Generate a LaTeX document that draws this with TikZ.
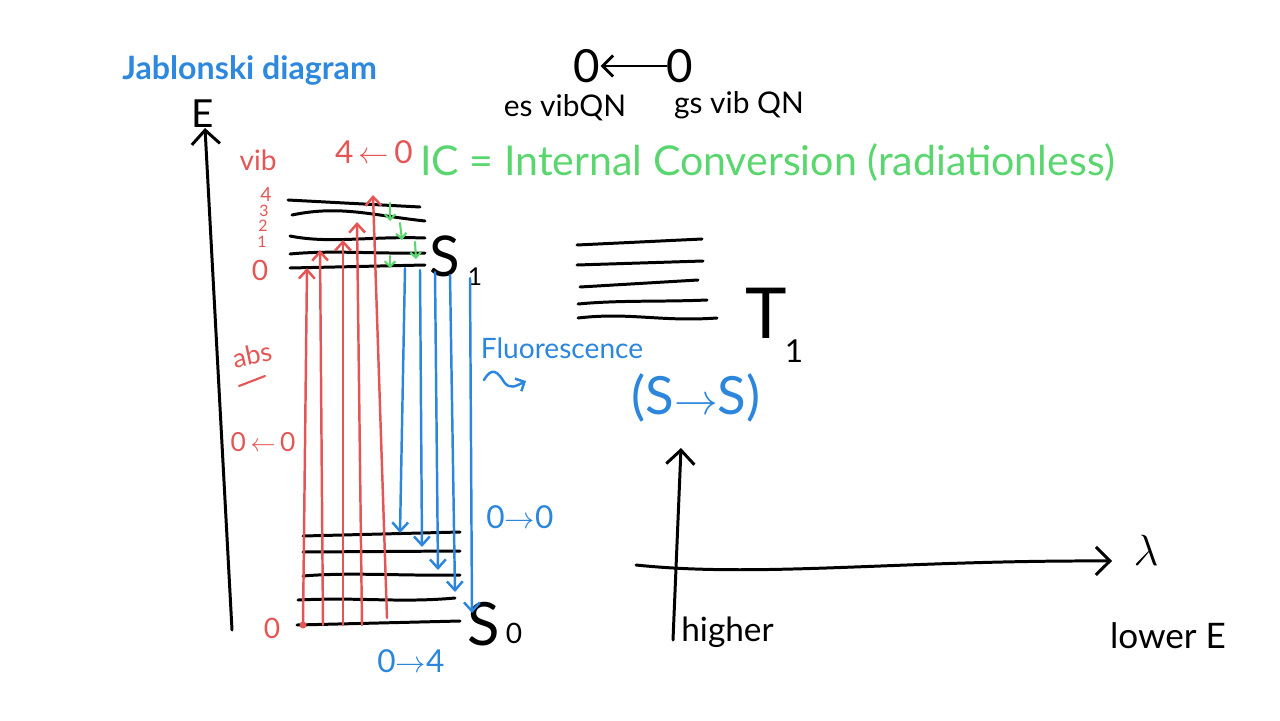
\documentclass[tikz,border=0pt]{standalone}
\usepackage{fontspec}
\setmainfont{Lato}
\usetikzlibrary{positioning,arrows,arrows.meta}
\definecolor{penred}{RGB}{228,86,86}
\definecolor{penblue}{RGB}{44,134,220}
\definecolor{pengreen}{RGB}{90,214,110}
\definecolor{titleblue}{RGB}{46,136,222}
\tikzstyle{lvl}=[line width=1.7pt, line cap=round]
\tikzstyle{absline}=[draw=penred, line width=1.4pt, line cap=round, -{Straight Barb[length=5pt,width=9pt]}]
\tikzstyle{fluo}=[draw=penblue, line width=1.4pt, line cap=round, -{Straight Barb[length=5pt,width=9pt]}]
\tikzstyle{icarrow}=[draw=pengreen, line width=1.2pt, line cap=round, -{Straight Barb[length=3pt,width=6pt]}]
\tikzstyle{axis}=[line width=1.7pt, line cap=round, -{Straight Barb[length=8pt,width=16pt]}]
\tikzstyle{lab}=[inner sep=0pt]

\begin{document}
\begin{tikzpicture}[x=0.02cm,y=-0.02cm]
	\useasboundingbox (0,0) rectangle (1280,720);
	% title
	\node[lab, anchor=west, text=titleblue, font=\bfseries\fontsize{18.3}{21}\selectfont] (title) at (122,70) {Jablonski diagram};
	% energy axis
	\coordinate (Ebot) at (232,630);
	\coordinate (Etop) at (205,128);
	\draw[axis] (Ebot) -- (Etop);
	\node[lab, font=\fontsize{22}{24}\selectfont] (E) at (203,114) {E};
	% S1 levels
	\draw[lvl] (288,200) -- (420,207);
	\draw[lvl] (292,215) .. controls (340,205) and (370,215) .. (425,221);
	\draw[lvl] (290,236) .. controls (330,244) and (370,236) .. (425,238);
	\draw[lvl] (290,254) .. controls (330,250) and (380,254) .. (425,253);
	\draw[lvl] (290,268) -- (425,265);
	\node[lab, font=\fontsize{32}{34}\selectfont] (S1) at (445,256) {S};
	\node[lab, font=\fontsize{14}{16}\selectfont] (S1sub) at (475,277) {1};
	% S0 levels
	\draw[lvl] (303,536) -- (460,532);
	\draw[lvl] (303,552) -- (460,551);
	\draw[lvl] (303,576) .. controls (350,572) and (400,576) .. (460,575);
	\draw[lvl] (298,600) .. controls (360,597) and (400,603) .. (455,598);
	\draw[lvl] (297,625) -- (460,621);
	\node[lab, font=\fontsize{34}{36}\selectfont] (S0) at (484,624) {S};
	\node[lab, font=\fontsize{16}{18}\selectfont] (S0sub) at (514,633) {0};
	% T1 levels
	\draw[lvl] (577,245) -- (702,239);
	\draw[lvl] (577,265) -- (703,261);
	\draw[lvl] (580,287) -- (698,280);
	\draw[lvl] (578,304) .. controls (620,300) and (660,302) .. (707,300);
	\draw[lvl] (578,318) .. controls (630,312) and (660,322) .. (717,318);
	\node[lab, font=\fontsize{40}{42}\selectfont] (T1) at (766,313) {T};
	\node[lab, font=\fontsize{18}{20}\selectfont] (T1sub) at (794,351) {1};
	% vib quantum numbers
	\node[lab, text=penred, font=\fontsize{16}{18}\selectfont] (vib) at (258,160) {vib};
	\node[lab, text=penred, font=\fontsize{11}{13}\selectfont] (v4) at (266,195) {4};
	\node[lab, text=penred, font=\fontsize{9}{11}\selectfont] (v3) at (264,211) {3};
	\node[lab, text=penred, font=\fontsize{9}{11}\selectfont] (v2) at (263,226) {2};
	\node[lab, text=penred, font=\fontsize{9}{11}\selectfont] (v1) at (262,242) {1};
	\node[lab, text=penred, font=\fontsize{16}{18}\selectfont] (v0) at (260,270) {0};
	\node[lab, text=penred, font=\fontsize{18}{20}\selectfont] (fourzero) at (374,152) {4\,$\leftarrow$\,0};
	\node[lab, text=penred, font=\fontsize{15}{17}\selectfont, rotate=12] (absl) at (252,355) {abs};
	\coordinate (absA) at (239,386);
	\coordinate (absB) at (265,376);
	\draw[penred, line width=1.2pt, line cap=round] (absA) -- (absB);
	\node[lab, text=penred, font=\fontsize{15}{17}\selectfont] (zerozero) at (263,442) {0\,$\leftarrow$\,0};
	\node[lab, text=penred, font=\fontsize{16}{18}\selectfont] (g0) at (272,628) {0};
	\fill[penred] (303,625) circle (3.5);
	% absorption
	\foreach \xa/\ya/\xb/\yb/\n in {303/625/307/268/1, 323/625/320/250/2, 343/625/343/240/3, 362/625/357/222/4, 387/618/373/195/5}{
		\coordinate (ra\n) at (\xa,\ya);
		\coordinate (rb\n) at (\xb,\yb);
		\draw[absline] (ra\n) -- (rb\n);
	}
	% fluorescence
	\foreach \xa/\ya/\xb/\yb/\n in {405/268/400/533/1, 420/270/422/547/2, 435/272/438/570/3, 450/275/455/592/4, 470/278/472/613/5}{
		\coordinate (ba\n) at (\xa,\ya);
		\coordinate (bb\n) at (\xb,\yb);
		\draw[fluo] (ba\n) -- (bb\n);
	}
	% internal conversion
	\foreach \xa/\ya/\xb/\yb/\n in {390/203/390/221/1, 400/223/402/240/2, 415/242/416/259/3, 390/256/390/268/4}{
		\coordinate (ga\n) at (\xa,\ya);
		\coordinate (gb\n) at (\xb,\yb);
		\draw[icarrow] (ga\n) -- (gb\n);
	}
	\node[lab, text=pengreen, anchor=west, font=\fontsize{23.4}{26}\selectfont] (IC) at (420,163) {IC = Internal Conversion (radiationless)};
	% top transition label
	\node[lab, font=\fontsize{26}{28}\selectfont] (es0) at (587,66) {0};
	\node[lab, font=\fontsize{26}{28}\selectfont] (gs0) at (680,66) {0};
	\draw[line width=1.6pt, line cap=round, -{Straight Barb[length=6pt,width=12pt]}] (gs0) -- (es0);
	\node[lab, font=\fontsize{17}{19}\selectfont] (esq) at (565,108) {es vibQN};
	\node[lab, font=\fontsize{17}{19}\selectfont] (gsq) at (739,105) {gs vib QN};
	% fluorescence labels
	\node[lab, text=penblue, font=\fontsize{16}{18}\selectfont] (fl) at (562,348) {Fluorescence};
	\coordinate (sqA) at (484,380);
	\coordinate (sqB) at (526,381);
	\draw[penblue, line width=1.4pt, line cap=round, -{Straight Barb[length=4pt,width=8pt]}] (sqA) .. controls (492,366) and (498,372) .. (504,382) .. controls (510,390) and (516,386) .. (sqB);
	\node[lab, text=penblue, font=\fontsize{30}{32}\selectfont] (ss) at (696,398) {(S$\rightarrow$S)};
	\node[lab, text=penblue, font=\fontsize{18}{20}\selectfont] (oo) at (520,517) {0$\rightarrow$0};
	\node[lab, text=penblue, font=\fontsize{18}{20}\selectfont] (ofour) at (411,661) {0$\rightarrow$4};
	% spectrum axes
	\coordinate (vbot) at (673,640);
	\coordinate (vtop) at (681,448);
	\coordinate (hleft) at (636,565);
	\coordinate (hright) at (1112,561);
	\draw[axis] (vbot) -- (vtop);
	\draw[axis] (hleft) .. controls (760,578) and (900,560) .. (hright);
	\node[lab, font=\fontsize{30}{32}\selectfont] (lam) at (1146,550) {$\lambda$};
	\node[lab, anchor=west, font=\fontsize{19}{21}\selectfont] (higher) at (681,632) {higher};
	\node[lab, font=\fontsize{20}{22}\selectfont] (lower) at (1168,636) {lower E};
\end{tikzpicture}
\end{document}
